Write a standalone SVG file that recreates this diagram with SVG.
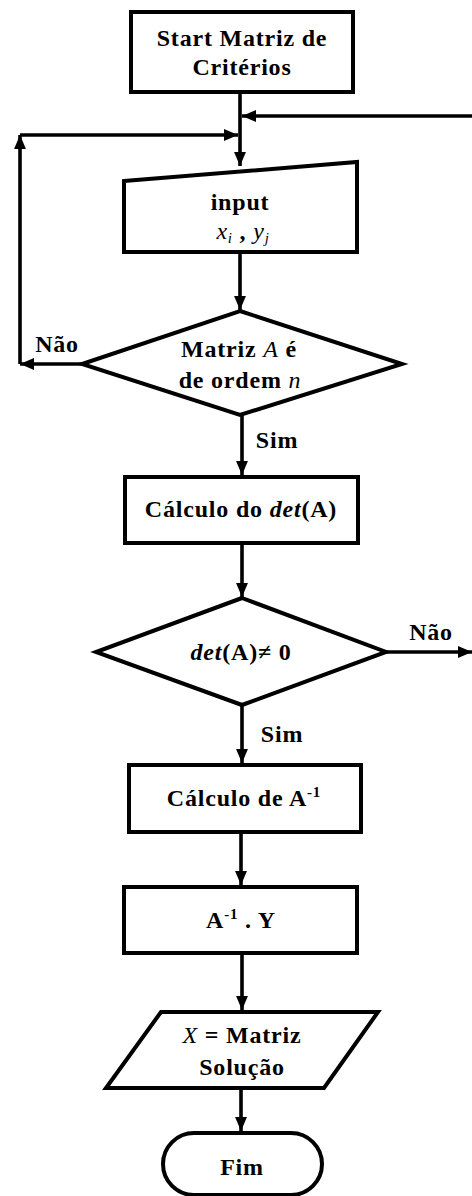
<svg xmlns="http://www.w3.org/2000/svg" width="472" height="1196" viewBox="0 0 472 1196">
<style>
.shape{fill:#fff;stroke:#000;stroke-width:4;stroke-linejoin:miter}
.conn{fill:none;stroke:#000;stroke-width:3.6}
.t{font-family:"Liberation Serif","DejaVu Serif",serif;font-size:24px;font-weight:bold;letter-spacing:0.8px;text-anchor:middle;fill:#000}
.i{font-style:italic}
.n{font-weight:normal}
.sup{font-size:15px}
</style>
<defs>
<marker id="ah" markerWidth="4" markerHeight="4" refX="4" refY="2" orient="auto" markerUnits="strokeWidth">
<path d="M0,0.3 L4,2 L0,3.7 Z" fill="#000"/>
</marker>
</defs>
<rect width="472" height="1196" fill="#fff"/>
<g id="connectors">
<line class="conn" x1="240" y1="92" x2="240" y2="166" marker-end="url(#ah)"/>
<line class="conn" x1="472" y1="116" x2="242" y2="116" marker-end="url(#ah)"/>
<line class="conn" x1="82" y1="364" x2="20" y2="364" marker-end="url(#ah)"/>
<line class="conn" x1="20" y1="364" x2="20" y2="135" marker-end="url(#ah)"/>
<line class="conn" x1="20" y1="135" x2="238" y2="135" marker-end="url(#ah)"/>
<line class="conn" x1="240" y1="252" x2="240" y2="310" marker-end="url(#ah)"/>
<line class="conn" x1="242" y1="415" x2="242" y2="475" marker-end="url(#ah)"/>
<line class="conn" x1="242" y1="543" x2="242" y2="597" marker-end="url(#ah)"/>
<line class="conn" x1="386" y1="652" x2="472" y2="652" marker-end="url(#ah)"/>
<line class="conn" x1="242" y1="705" x2="242" y2="763" marker-end="url(#ah)"/>
<line class="conn" x1="241" y1="832" x2="241" y2="885" marker-end="url(#ah)"/>
<line class="conn" x1="242" y1="953" x2="242" y2="1010" marker-end="url(#ah)"/>
<line class="conn" x1="241" y1="1089" x2="241" y2="1131" marker-end="url(#ah)"/>
<text class="t" x="57" y="352">Não</text>
<text class="t" x="277" y="448">Sim</text>
<text class="t" x="431" y="640">Não</text>
<text class="t" x="282" y="742">Sim</text>
</g>
<g id="start">
<rect class="shape" x="131" y="12" width="222" height="80"/>
<text class="t" x="242" y="46">Start Matriz de</text>
<text class="t" x="242" y="75">Critérios</text>
</g>
<g id="input">
<polygon class="shape" points="124,181 357,162 357,252 124,252"/>
<text class="t" x="240" y="210">input</text>
<text class="t" x="243" y="239"><tspan class="i n">x</tspan><tspan class="i n sup" dy="4">i</tspan><tspan dy="-4"> , </tspan><tspan class="i n">y</tspan><tspan class="i n sup" dy="4">j</tspan></text>
</g>
<g id="decision-ordem">
<polygon class="shape" points="240,311 402,364 240,415 82,364"/>
<text class="t" x="239" y="357">Matriz <tspan class="i n">A</tspan> é</text>
<text class="t" x="240" y="388">de ordem <tspan class="i n">n</tspan></text>
</g>
<g id="calc-det">
<rect class="shape" x="125" y="477" width="233" height="66"/>
<text class="t" x="241" y="517">Cálculo do <tspan class="i">det</tspan>(A)</text>
</g>
<g id="decision-det">
<polygon class="shape" points="242,598 386,652 242,705 96,652"/>
<text class="t" x="241" y="660"><tspan class="i">det</tspan>(A)≠ 0</text>
</g>
<g id="calc-inv">
<rect class="shape" x="129" y="765" width="232" height="67"/>
<text class="t" x="244" y="806">Cálculo de A<tspan class="sup" dy="-9">-1</tspan></text>
</g>
<g id="mult">
<rect class="shape" x="124" y="887" width="233" height="66"/>
<text class="t" x="241" y="928">A<tspan class="sup" dy="-9">-1</tspan><tspan dy="9"> . Y</tspan></text>
</g>
<g id="output">
<polygon class="shape" points="161,1012 378,1012 324,1088 106,1088"/>
<text class="t" x="242" y="1043"><tspan class="i n">X</tspan> = Matriz</text>
<text class="t" x="242" y="1075">Solução</text>
</g>
<g id="end">
<rect class="shape" x="163" y="1133" width="159" height="62" rx="31" ry="31"/>
<text class="t" x="242" y="1175">Fim</text>
</g>
</svg>
